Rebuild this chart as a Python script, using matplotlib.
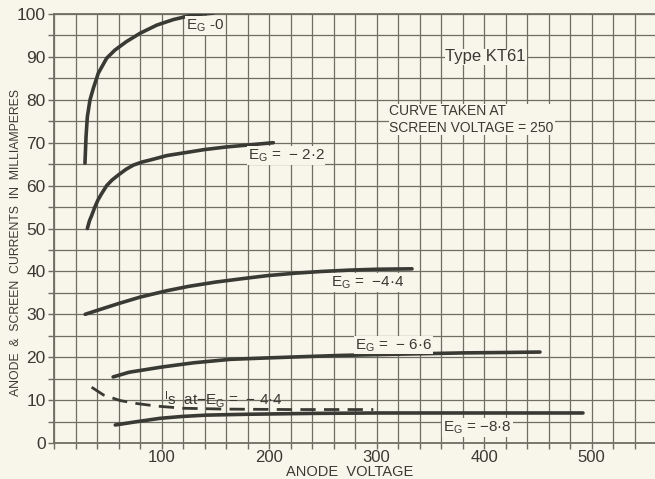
import matplotlib
matplotlib.use("Agg")
import matplotlib.pyplot as plt
import numpy as np

# Data (anode voltage V, current mA)
eg0_v = [28.8, 29.8, 31, 33.5, 36.6, 41.2, 49, 56.7, 67.6, 80, 95.5, 111, 129.6, 148]
eg0_i = [65.2, 71.4, 76, 80, 82.7, 86.2, 89.7, 91.6, 93.6, 95.5, 97.4, 98.7, 99.8, 100.2]

eg22_v = [31, 33, 35, 38, 41, 44, 49, 54, 60, 67, 74, 82, 90, 105, 120, 140, 160, 182, 204]
eg22_i = [50, 51.8, 53, 55, 56.7, 58, 60, 61.3, 62.5, 63.8, 64.8, 65.5, 66, 67, 67.6, 68.4, 69, 69.5, 70]

eg44_v = [29, 45, 60, 80, 105, 125, 150, 175, 198, 225, 250, 275, 300, 333]
eg44_i = [30, 31.3, 32.5, 34, 35.5, 36.5, 37.5, 38.3, 39, 39.6, 40, 40.3, 40.5, 40.6]

eg66_v = [55, 70, 85, 100, 115, 130, 147, 164, 195, 229, 265, 300, 340, 380, 420, 452]
eg66_i = [15.4, 16.5, 17.1, 17.7, 18.2, 18.7, 19.1, 19.5, 19.8, 20.1, 20.4, 20.6, 20.8, 21, 21.1, 21.2]

eg88_v = [57, 75, 98.6, 120, 142, 180, 240, 300, 400, 492]
eg88_i = [4.2, 4.9, 5.75, 6.2, 6.5, 6.7, 6.9, 7.0, 7.0, 7.0]

is_v = [35, 46, 61.4, 77, 95.5, 120, 160, 220, 297]
is_i = [13, 11.2, 9.9, 9.2, 8.6, 8.1, 7.9, 7.8, 7.8]

x_ticks = [100, 200, 300, 400, 500]
y_ticks = [0, 10, 20, 30, 40, 50, 60, 70, 80, 90, 100]

BG = "#f8f5ea"
GRID = "#6e6e64"
INK = "#3a3a34"

plt.rcParams['font.family'] = ['Liberation Sans', 'DejaVu Sans']

fig = plt.figure(figsize=(6.55, 4.79), dpi=100, facecolor=BG)
ax = fig.add_axes([54/655, 1-443/479, 1-54/655, (443-14)/479])
ax.set_facecolor(BG)
ax.set_xlim(0, 559)
ax.set_ylim(0, 100)

ax.set_xticks(np.arange(0, 560, 20), minor=True)
ax.set_yticks(np.arange(0, 101, 5), minor=True)
ax.set_xticks(x_ticks)
ax.set_yticks(y_ticks)
ax.set_xticklabels([str(t) for t in x_ticks], fontsize=12, color=INK)
ax.set_yticklabels([str(t) for t in y_ticks], fontsize=12.5, color=INK)
ax.tick_params(which='both', length=4, width=1, color=GRID, pad=2)
ax.tick_params(axis='x', which='major', pad=1)
ax.grid(which='both', color=GRID, lw=0.9)
ax.set_axisbelow(True)
for s in ax.spines.values():
    s.set_color(GRID)
    s.set_linewidth(1.3)
ax.spines['right'].set_visible(False)

curve_kw = dict(color=INK, lw=2.6, solid_capstyle='round', solid_joinstyle='round', zorder=3)
ax.plot(eg0_v, eg0_i, **curve_kw)
ax.plot(eg22_v, eg22_i, **curve_kw)
ax.plot(eg44_v, eg44_i, **curve_kw)
ax.plot(eg66_v, eg66_i, **curve_kw)
ax.plot(eg88_v, eg88_i, **curve_kw)
ax.plot(is_v, is_i, color=INK, lw=2.0, dashes=(5.5, 3), zorder=3)

box = dict(facecolor=BG, edgecolor='none', pad=0.5)
lab_kw = dict(fontsize=11, color=INK, zorder=4, va='center', ha='left')
ax.text(123, 97.3, "E$_{\\mathregular{G}}$ -0", bbox=box, **lab_kw)
ax.text(180, 67, "E$_{\\mathregular{G}}$ =  \u2212 2\u00b72", bbox=box, **lab_kw)
ax.text(258, 37.4, "E$_{\\mathregular{G}}$ =  \u22124\u00b74", bbox=box, **lab_kw)
ax.text(280, 22.8, "E$_{\\mathregular{G}}$ =  \u2212 6\u00b76", bbox=box, **lab_kw)
ax.text(362, 3.6, "E$_{\\mathregular{G}}$ = \u22128\u00b78", bbox=box, **lab_kw)
ax.text(102, 9.9, "$\\mathregular{^{I}}$s  at\u2212E$_{\\mathregular{G}}$ =  \u2212 4\u00b74",
        zorder=4, fontsize=11, color=INK, va='center', ha='left')

ax.text(364, 90, "Type KT61", fontsize=12, color=INK, ha='left', va='center',
        bbox=box, zorder=4)
ax.text(312, 75.4, "CURVE TAKEN AT\nSCREEN VOLTAGE = 250", fontsize=10,
        color=INK, ha='left', va='center', linespacing=1.2, bbox=box, zorder=4)

fig.text(350/655, 1-472.5/479, "ANODE  VOLTAGE", fontsize=10.5, color=INK,
         ha='center', va='center')
fig.text(16/655, 1-243/479, "ANODE  &  SCREEN  CURRENTS  IN  MILLIAMPERES",
         rotation=90, fontsize=8.8, color=INK, ha='center', va='center')

fig.savefig("out.png", dpi=100, facecolor=BG)
